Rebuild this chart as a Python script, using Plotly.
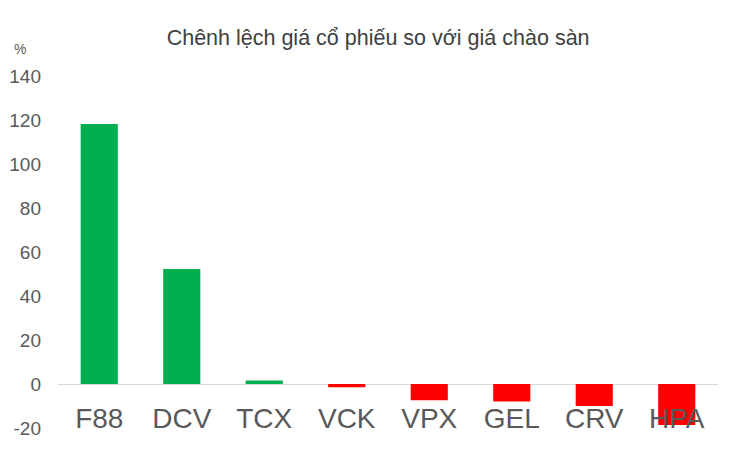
import plotly.graph_objects as go

# Price change vs. listing price (%)
tickers = ["F88", "DCV", "TCX", "VCK", "VPX", "GEL", "CRV", "HPA"]
change_pct = [118.2, 52.3, 1.6, -1.5, -7.4, -7.9, -10.0, -18.6]
y_ticks = [-20, 0, 20, 40, 60, 80, 100, 120, 140]
y_tick_text = ["-20", "0", "20", "40", "60", "80", "100", "120", "140"]

GREEN = "#00B050"
RED = "#FF0000"
GREY = "#595959"
FONT = "Liberation Sans, Arial, sans-serif"

colors = [GREEN if v >= 0 else RED for v in change_pct]

fig = go.Figure(go.Bar(x=tickers, y=change_pct, marker_color=colors,
                       marker_line_width=0))

# page body adds an 8px offset, margins compensate for it
fig.update_layout(
    width=730, height=456,
    margin=dict(l=50, r=20, t=68, b=36),
    plot_bgcolor="white", paper_bgcolor="white",
    bargap=0.55,
    showlegend=False,
    font=dict(family=FONT, color=GREY),
    title=dict(text="Chênh lệch giá cổ phiếu so với giá chào sàn",
               x=0.507, xanchor="center", y=0.936, yanchor="middle",
               font=dict(size=21.5, color="#404040", family=FONT)),
    annotations=[dict(text="%", xref="paper", yref="paper",
                      x=-0.07, y=1.105, showarrow=False,
                      font=dict(size=14, color=GREY, family=FONT))],
)

fig.update_xaxes(
    anchor="free", position=0.125, automargin=False,
    showline=False, showgrid=False, ticks="",
    tickfont=dict(size=28, color=GREY, family=FONT),
    ticklabelstandoff=15,
    layer="above traces",
)
fig.update_yaxes(
    range=[-20, 140], tickvals=y_ticks, ticktext=y_tick_text,
    automargin=False,
    showgrid=False, showline=False, ticks="",
    zeroline=True, zerolinecolor="#D9D9D9", zerolinewidth=1,
    tickfont=dict(size=19, color=GREY, family=FONT),
    ticklabelstandoff=16,
)

fig.write_html("out.html")
